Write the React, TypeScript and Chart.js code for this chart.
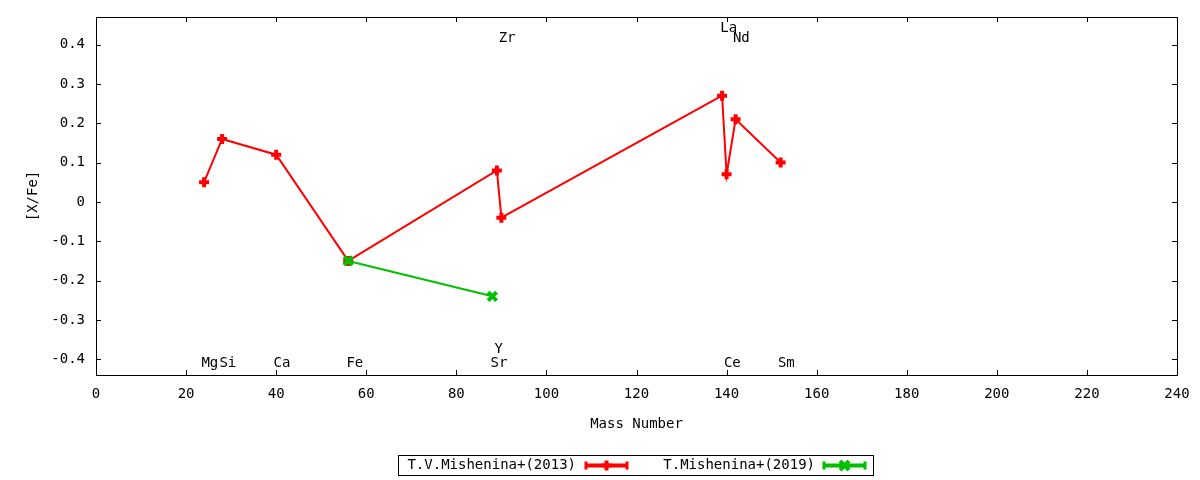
import React, { useEffect, useRef } from 'react';
import { Chart, registerables } from 'chart.js';

Chart.register(...registerables);

const FONT_FAMILY = '"DejaVu Sans Mono", monospace';
const FONT_SIZE = 14;

// Series data (mass number, [X/Fe])
const redMass = [24, 28, 40, 56, 89, 90, 139, 140, 142, 152];
const redValues = [0.05, 0.16, 0.12, -0.15, 0.08, -0.04, 0.27, 0.07, 0.21, 0.1];
const greenMass = [56, 88];
const greenValues = [-0.15, -0.24];

const seriesNames = ['T.V.Mishenina+(2013)', 'T.Mishenina+(2019)'];
const seriesColors = ['#ff0000', '#00c000'];

// Element labels (left edge position in data coords)
const elementNames = ['Mg', 'Si', 'Ca', 'Fe', 'Sr', 'Y', 'Zr', 'La', 'Ce', 'Nd', 'Sm'];
const elementLabelX = [23.4, 27.4, 39.4, 55.6, 87.6, 88.5, 89.4, 138.6, 139.4, 141.4, 151.4];
const elementLabelY = [-0.41, -0.41, -0.41, -0.41, -0.41, -0.375, 0.416, 0.44, -0.41, 0.416, -0.41];

const xMin = 0;
const xMax = 240;
const xStep = 20;
const yMin = -0.44;
const yMax = 0.47;
const yStep = 0.1;

const xTitle = 'Mass Number';
const yTitle = '[X/Fe]';

const font = `${FONT_SIZE}px ${FONT_FAMILY}`;

function drawPlus(ctx: CanvasRenderingContext2D, x: number, y: number, r: number) {
  ctx.beginPath();
  ctx.moveTo(x - r, y);
  ctx.lineTo(x + r, y);
  ctx.moveTo(x, y - r);
  ctx.lineTo(x, y + r);
  ctx.stroke();
}
function drawX(ctx: CanvasRenderingContext2D, x: number, y: number, r: number) {
  const d = r * 0.75;
  ctx.beginPath();
  ctx.moveTo(x - d, y - d);
  ctx.lineTo(x + d, y + d);
  ctx.moveTo(x + d, y - d);
  ctx.lineTo(x - d, y + d);
  ctx.stroke();
}

const framePlugin = {
  id: 'gnuFrame',
  afterDatasetsDraw(chart: any) {
    const ctx: CanvasRenderingContext2D = chart.ctx;
    const { left, right, top, bottom } = chart.chartArea;
    const xs = chart.scales.x;
    const ys = chart.scales.y;
    ctx.save();
    ctx.strokeStyle = '#000';
    ctx.lineWidth = 1;
    const tl = 5;
    ctx.beginPath();
    xs.ticks.forEach((t: any) => {
      const px = Math.round(xs.getPixelForValue(t.value)) + 0.5;
      ctx.moveTo(px, bottom);
      ctx.lineTo(px, bottom - tl);
      ctx.moveTo(px, top);
      ctx.lineTo(px, top + tl);
    });
    ys.ticks.forEach((t: any) => {
      const py = Math.round(ys.getPixelForValue(t.value)) + 0.5;
      ctx.moveTo(left, py);
      ctx.lineTo(left + tl, py);
      ctx.moveTo(right, py);
      ctx.lineTo(right - tl, py);
    });
    ctx.stroke();
    ctx.strokeRect(Math.round(left) + 0.5, Math.round(top) + 0.5, Math.round(right - left), Math.round(bottom - top));

    // element labels
    ctx.fillStyle = '#000';
    ctx.font = font;
    ctx.textAlign = 'left';
    ctx.textBaseline = 'middle';
    elementNames.forEach((name, i) => {
      ctx.fillText(name, xs.getPixelForValue(elementLabelX[i]), ys.getPixelForValue(elementLabelY[i]));
    });
    ctx.restore();
  },
  afterDraw(chart: any) {
    const ctx: CanvasRenderingContext2D = chart.ctx;
    ctx.save();
    // legend box
    ctx.strokeStyle = '#000';
    ctx.lineWidth = 1;
    ctx.strokeRect(398.5, 455.5, 475, 20);
    ctx.font = font;
    ctx.fillStyle = '#000';
    ctx.textAlign = 'right';
    ctx.textBaseline = 'middle';
    const ly = 465.5;
    const entries = [
      { text: seriesNames[0], textRight: 576, x0: 585, x1: 628, color: seriesColors[0], marker: 'plus' },
      { text: seriesNames[1], textRight: 815, x0: 823, x1: 866, color: seriesColors[1], marker: 'x' },
    ];
    entries.forEach((e) => {
      ctx.fillStyle = '#000';
      ctx.fillText(e.text, e.textRight, ly);
      ctx.strokeStyle = e.color;
      ctx.lineWidth = 4;
      ctx.beginPath();
      ctx.moveTo(e.x0, ly);
      ctx.lineTo(e.x1, ly);
      ctx.stroke();
      ctx.lineWidth = 3;
      ctx.beginPath();
      ctx.moveTo(e.x0 + 1, ly - 4);
      ctx.lineTo(e.x0 + 1, ly + 4);
      ctx.moveTo(e.x1 - 1, ly - 4);
      ctx.lineTo(e.x1 - 1, ly + 4);
      ctx.stroke();
      const mx = (e.x0 + e.x1) / 2;
      ctx.lineWidth = 4;
      if (e.marker === 'plus') drawPlus(ctx, mx, ly, 5);
      else drawX(ctx, mx, ly, 6);
    });
    ctx.restore();
  },
};

export default function App() {
  const canvasRef = useRef<HTMLCanvasElement | null>(null);

  useEffect(() => {
    document.body.style.margin = '0';
    const canvas = canvasRef.current;
    if (!canvas) return;
    const chart = new Chart(canvas, {
      type: 'line',
      data: {
        datasets: [
          {
            label: seriesNames[0],
            data: redMass.map((m, i) => ({ x: m, y: redValues[i] })),
            borderColor: seriesColors[0],
            backgroundColor: seriesColors[0],
            borderWidth: 2,
            pointStyle: 'cross',
            pointRadius: 5,
            pointBorderWidth: 4,
            pointBorderColor: seriesColors[0],
            fill: false,
            tension: 0,
            order: 1,
          },
          {
            label: seriesNames[1],
            data: greenMass.map((m, i) => ({ x: m, y: greenValues[i] })),
            borderColor: seriesColors[1],
            backgroundColor: seriesColors[1],
            borderWidth: 2,
            pointStyle: 'crossRot',
            pointRadius: 6,
            pointBorderWidth: 4,
            pointBorderColor: seriesColors[1],
            fill: false,
            tension: 0,
            order: 0,
          },
        ],
      },
      options: {
        animation: false,
        responsive: false,
        maintainAspectRatio: false,
        devicePixelRatio: 1,
        color: '#000',
        layout: { padding: { top: 17, right: 23, bottom: 0, left: 0 } },
        plugins: {
          legend: { display: false },
          tooltip: { enabled: false },
          title: { display: false },
        },
        scales: {
          x: {
            type: 'linear',
            min: xMin,
            max: xMax,
            grid: { display: false, drawTicks: false },
            border: { display: false },
            ticks: {
              stepSize: xStep,
              autoSkip: false,
              maxRotation: 0,
              padding: 11,
              color: '#000',
              font: { family: FONT_FAMILY, size: FONT_SIZE },
            },
            title: {
              display: true,
              text: xTitle,
              color: '#000',
              font: { family: FONT_FAMILY, size: FONT_SIZE },
              padding: { top: 0, bottom: 47.6 },
            },
            afterFit: (scale: any) => {
              scale.height = 105;
              scale.paddingLeft = 0;
              scale.paddingRight = 0;
            },
          },
          y: {
            type: 'linear',
            min: yMin,
            max: yMax,
            grid: { display: false, drawTicks: false },
            border: { display: false },
            ticks: {
              stepSize: yStep,
              includeBounds: false,
              padding: 11,
              color: '#000',
              font: { family: FONT_FAMILY, size: FONT_SIZE },
              callback: (v: any) => {
                const n = Math.round(Number(v) * 10) / 10;
                return n === 0 ? '0' : n.toFixed(1);
              },
            },
            title: {
              display: true,
              text: yTitle,
              color: '#000',
              font: { family: FONT_FAMILY, size: FONT_SIZE },
              padding: { top: 24.6, bottom: 0 },
            },
            afterFit: (scale: any) => {
              scale.width = 96;
              scale.paddingTop = 0;
              scale.paddingBottom = 0;
            },
          },
        },
      },
      plugins: [framePlugin],
    } as any);
    return () => chart.destroy();
  }, []);

  return (
    <div style={{ position: 'absolute', left: 0, top: 0, width: 1200, height: 480, background: '#fff' }}>
      <canvas ref={canvasRef} width={1200} height={480} style={{ width: 1200, height: 480 }} />
    </div>
  );
}
